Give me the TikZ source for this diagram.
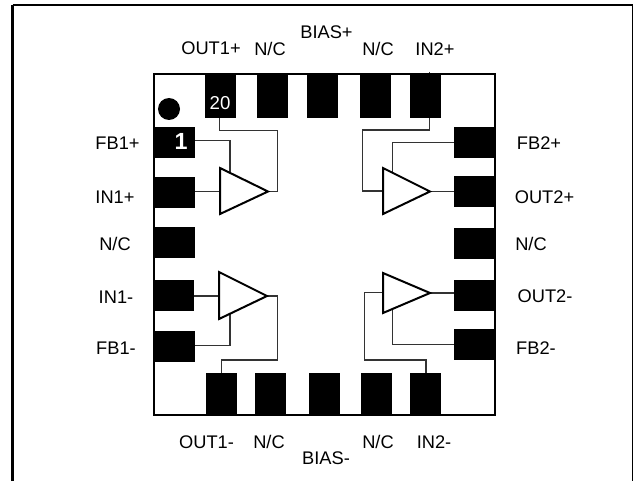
\documentclass[tikz,border=0pt]{standalone}
\usepackage{fontspec}
\setmainfont{Liberation Sans}
\begin{document}
\begin{tikzpicture}[x=0.75pt,y=-0.75pt,
  padbox/.style={fill=black,draw=none},
  wirelink/.style={draw=black!80,line width=0.8pt},
  amp/.style={draw=black,line width=1.5pt,fill=white,line join=miter},
  frameline/.style={draw=black,line width=1.5pt},
  pinlabel/.style={font=\fontsize{13.7}{15}\selectfont,text=black,inner sep=0pt},
  padnum/.style={text=white,inner sep=0pt}]
\useasboundingbox (0,0) rectangle (634,481);
\fill[white] (0,0) rectangle (634,481);
\coordinate (fTL) at (12.5,5); \coordinate (fTR) at (632.5,5);
\coordinate (fBL) at (12.5,481); \coordinate (fBR) at (632.5,481);
\draw[draw=black,line width=2.2pt] (fBL) -- (fTL);
\draw[frameline] (fTL) -- (fTR);
\draw[draw=black,line width=1.1pt] (fTR) -- (fBR);
\draw[frameline] (154,74) rectangle (495,415);
% wires
\draw[wirelink] (219.5,118) -- (219.5,130.5) -- (277.5,130.5) -- (277.5,191.5) -- (268,191.5);
\draw[wirelink] (195,140.5) -- (230,140.5) -- (230,172);
\draw[wirelink] (195,191.5) -- (220,191.5);
\draw[wirelink] (429.7,72) -- (429.7,130) -- (362.7,130) -- (362.7,191) -- (383,191);
\draw[wirelink] (454,142.7) -- (392.7,142.7) -- (392.7,172);
\draw[wirelink] (430,191.5) -- (454,191.5);
\draw[wirelink] (194,296) -- (219,296);
\draw[wirelink] (195,345.7) -- (230,345.7) -- (230,313);
\draw[wirelink] (267,296) -- (277.7,296) -- (277.7,360) -- (221.7,360) -- (221.7,373);
\draw[wirelink] (383,292.7) -- (364.2,292.7) -- (364.2,360) -- (426,360) -- (426,373);
\draw[wirelink] (392.7,308) -- (392.7,344.7) -- (454,344.7);
\draw[wirelink] (430,293) -- (454,293);
% top pads
\path[padbox] (205,73) rectangle (236,118);
\path[padbox] (257,73) rectangle (288,118);
\path[padbox] (307,73) rectangle (338,118);
\path[padbox] (360,73) rectangle (391,118);
\path[padbox] (410,73) rectangle (441,118);
% left pads
\path[padbox] (154,127) rectangle (195,158);
\path[padbox] (154,177) rectangle (195,208);
\path[padbox] (154,227) rectangle (195,258);
\path[padbox] (154,280) rectangle (194,311);
\path[padbox] (154,331) rectangle (195,362);
% right pads
\path[padbox] (454,127) rectangle (495,158);
\path[padbox] (454,176) rectangle (495,207);
\path[padbox] (454,228) rectangle (495,259);
\path[padbox] (454,280) rectangle (495,311);
\path[padbox] (454,329) rectangle (495,360);
% bottom pads
\path[padbox] (206,373) rectangle (237,415);
\path[padbox] (255,373) rectangle (286,415);
\path[padbox] (309,373) rectangle (340,415);
\path[padbox] (361,373) rectangle (392,415);
\path[padbox] (410,373) rectangle (441,415);
\fill[black] (169,109) circle (11);
% amps
\draw[amp] (220,168) -- (268,191.5) -- (220,214) -- cycle;
\draw[amp] (383,168) -- (430,191.5) -- (383,214) -- cycle;
\draw[amp] (219,272) -- (267,296) -- (219,319) -- cycle;
\draw[amp] (383,273) -- (430,293) -- (383,313) -- cycle;
% pad numbers
\node[padnum,font=\fontsize{14}{16}\selectfont] (n20) at (220,103) {20};
\node[padnum,font=\bfseries\fontsize{17.5}{19}\selectfont] (n1) at (181,141) {1};
% labels
\node[pinlabel] (l1) at (211,48) {OUT1+};
\node[pinlabel] (l2) at (270,49) {N/C};
\node[pinlabel] (l3) at (326.5,32) {BIAS+};
\node[pinlabel] (l4) at (378,49) {N/C};
\node[pinlabel] (l5) at (435,49) {IN2+};
\node[pinlabel] (l6) at (117.5,143) {FB1+};
\node[pinlabel] (l7) at (115,197) {IN1+};
\node[pinlabel] (l8) at (115,244) {N/C};
\node[pinlabel] (l9) at (116,297) {IN1-};
\node[pinlabel] (l10) at (116,348) {FB1-};
\node[pinlabel] (r1) at (539,143) {FB2+};
\node[pinlabel] (r2) at (544.5,197) {OUT2+};
\node[pinlabel] (r3) at (531,244) {N/C};
\node[pinlabel] (r4) at (545,296) {OUT2-};
\node[pinlabel] (r5) at (536,348) {FB2-};
\node[pinlabel] (b1) at (206.5,442) {OUT1-};
\node[pinlabel] (b2) at (269,442) {N/C};
\node[pinlabel] (b3) at (326,458) {BIAS-};
\node[pinlabel] (b4) at (378,442) {N/C};
\node[pinlabel] (b5) at (434,442) {IN2-};
\end{tikzpicture}
\end{document}
